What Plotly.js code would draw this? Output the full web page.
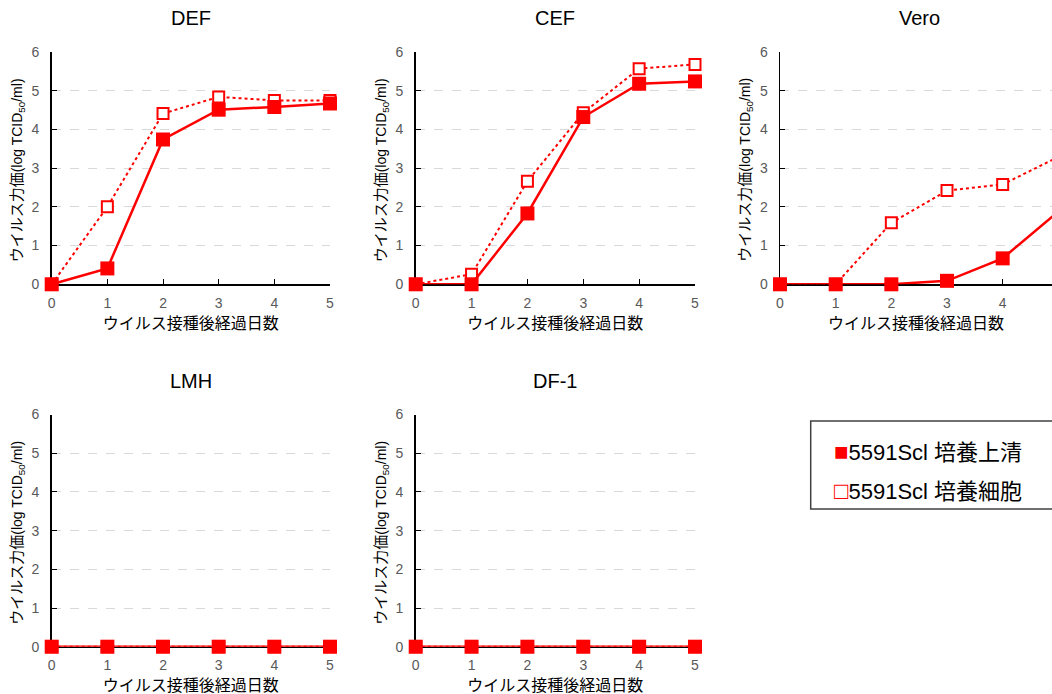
<!DOCTYPE html>
<html>
<head>
<meta charset="utf-8">
<script src="https://cdn.plot.ly/plotly-3.0.1.min.js"></script>
<style>html,body{margin:0;padding:0;background:#fff;}#chart{width:1052px;height:694px;}</style>
</head>
<body>
<div id="chart"></div>
<script>
// ---- data ----
const days = [0, 1, 2, 3, 4, 5];
const panelTitles = ['DEF', 'CEF', 'Vero', 'LMH', 'DF-1'];
const seriesNames = ['5591Scl 培養上清', '5591Scl 培養細胞'];
const defSupernatant = [0, 0.41, 3.74, 4.51, 4.58, 4.67];
const defCells       = [0, 2.0, 4.41, 4.84, 4.75, 4.75];
const cefSupernatant = [0, 0, 1.83, 4.32, 5.18, 5.24];
const cefCells       = [0, 0.26, 2.66, 4.43, 5.57, 5.68];
const veroSupernatant = [0, 0, 0, 0.09, 0.67, 1.88];
const veroCells       = [0, 0, 1.59, 2.42, 2.58, 3.29];
const lmhSupernatant = [0, 0, 0, 0, 0, 0];
const lmhCells       = [0, 0, 0, 0, 0, 0];
const df1Supernatant = [0, 0, 0, 0, 0, 0];
const df1Cells       = [0, 0, 0, 0, 0, 0];
const xTitle = 'ウイルス接種後経過日数';
const yTitle = 'ウイルス力価<span style="font-size:14px">(log TCID<sub>50</sub>/ml)</span>';

const supData = [defSupernatant, cefSupernatant, veroSupernatant, lmhSupernatant, df1Supernatant];
const cellData = [defCells, cefCells, veroCells, lmhCells, df1Cells];

// ---- layout geometry (pixels) ----
const W = 1052, H = 694;
const RED = '#ff0000';
const FONT = 'Liberation Sans, Arial, Noto Sans CJK JP, sans-serif';
const panels = [
  {x0: 51.7, x1: 330, y0: 284.3, y1: 52, xr: [0, 5]},
  {x0: 415.7, x1: 695, y0: 284.3, y1: 52, xr: [0, 5]},
  {x0: 780, x1: 1052, y0: 284.3, y1: 52, xr: [0, (1052 - 780) / 55.67]},
  {x0: 51.7, x1: 330, y0: 646.7, y1: 414.5, xr: [0, 5]},
  {x0: 415.7, x1: 695, y0: 646.7, y1: 414.5, xr: [0, 5]}
];

const traces = [];
const layout = {
  width: W, height: H,
  margin: {l: 0, r: 0, t: 0, b: 0},
  paper_bgcolor: '#fff', plot_bgcolor: 'rgba(0,0,0,0)',
  showlegend: false,
  font: {family: FONT, color: '#000'},
  annotations: [], shapes: []
};

panels.forEach((p, i) => {
  const n = i === 0 ? '' : String(i + 1);
  const xa = 'x' + n, ya = 'y' + n;
  // open squares, dotted line (cells)
  traces.push({
    x: days, y: cellData[i], xaxis: xa, yaxis: ya, type: 'scatter', mode: 'lines+markers',
    name: seriesNames[1], cliponaxis: false,
    line: {color: RED, width: 2, dash: 'dot'},
    marker: {symbol: 'square', size: 11, color: '#ffffff', line: {color: RED, width: 2}}
  });
  // filled squares, solid line (supernatant)
  traces.push({
    x: days, y: supData[i], xaxis: xa, yaxis: ya, type: 'scatter', mode: 'lines+markers',
    name: seriesNames[0], cliponaxis: false,
    line: {color: RED, width: 2.5},
    marker: {symbol: 'square', size: 14, color: RED}
  });
  layout['xaxis' + n] = {
    domain: [p.x0 / W, p.x1 / W], anchor: ya, range: p.xr,
    tickmode: 'linear', tick0: 0, dtick: 1,
    showline: true, linecolor: '#000', linewidth: 1.5, layer: 'below traces',
    ticks: 'inside', ticklen: 5, tickcolor: '#000', tickwidth: 1,
    showgrid: false, zeroline: false,
    tickfont: {size: 14, color: '#595959', family: FONT},
    ticklabelstandoff: 5,
    title: {text: xTitle, font: {size: 16, color: '#000'}, standoff: 8}
  };
  layout['yaxis' + n] = {
    domain: [(H - p.y0) / H, (H - p.y1) / H], anchor: xa, range: [0, 6],
    tickmode: 'linear', tick0: 0, dtick: 1,
    showline: true, linecolor: '#000', linewidth: 1.5, layer: 'below traces',
    ticks: 'inside', ticklen: 5, tickcolor: '#000', tickwidth: 1,
    showgrid: true, gridcolor: '#d9d9d9', griddash: 'dash', gridwidth: 1,
    zeroline: false,
    tickfont: {size: 14, color: '#595959', family: FONT},
    ticklabelstandoff: 8
  };
  // y-axis title placed precisely
  layout.annotations.push({
    xref: 'paper', yref: 'paper', x: (p.x0 - 34.5) / W, y: (H - ((p.y0 + p.y1) / 2 + 2)) / H,
    xanchor: 'center', yanchor: 'middle', showarrow: false, textangle: -90,
    text: yTitle, font: {size: 15, color: '#000', family: FONT}
  });
  // panel title
  layout.annotations.push({
    xref: 'paper', yref: 'paper', x: ((p.x0 + p.x0 + 278.3) / 2) / W,
    y: (H - (p.y1 - 34)) / H, xanchor: 'center', yanchor: 'middle', showarrow: false,
    text: panelTitles[i], font: {size: 20, color: '#000', family: FONT}
  });
});

// legend box drawn like the original (text glyph squares)
layout.shapes.push({
  type: 'rect', xref: 'paper', yref: 'paper',
  x0: 810.7 / W, x1: 1.02, y0: (H - 509) / H, y1: (H - 421) / H,
  line: {color: '#404040', width: 1.5}, fillcolor: 'rgba(0,0,0,0)'
});
layout.annotations.push({
  xref: 'paper', yref: 'paper', x: 832 / W, y: (H - 451.7) / H, xanchor: 'left', yanchor: 'middle',
  showarrow: false, font: {size: 22, color: '#000', family: FONT},
  text: '<span style="color:#ff0000;font-size:24px">■</span>' + seriesNames[0]
});
layout.annotations.push({
  xref: 'paper', yref: 'paper', x: 832 / W, y: (H - 490.7) / H, xanchor: 'left', yanchor: 'middle',
  showarrow: false, font: {size: 22, color: '#000', family: FONT},
  text: '<span style="color:#ff0000;font-size:24px">□</span>' + seriesNames[1]
});

Plotly.newPlot('chart', traces, layout, {staticPlot: true, displayModeBar: false});
</script>
</body>
</html>
